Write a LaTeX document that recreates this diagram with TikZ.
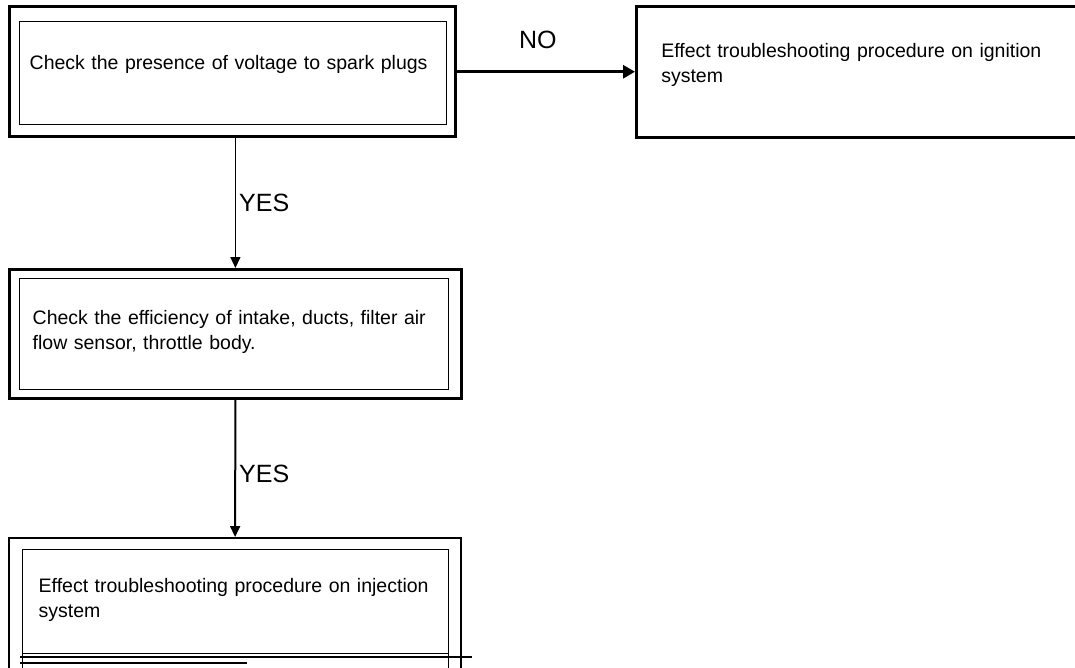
\documentclass[tikz,border=0pt]{standalone}
\usepackage{fontspec}
\setmainfont{Liberation Sans}
\usetikzlibrary{arrows.meta}

\tikzset{
  stepbox/.style={draw, line width=1.4pt, anchor=north west, align=left, inner ysep=0pt,
    font=\fontsize{19.5pt}{25pt}\selectfont},
  framebox/.style={draw, line width=2.8pt, anchor=north west, inner sep=0pt},
  flow/.style={line width=1.5pt, -{Triangle[length=11pt,width=10pt]}},
  answer/.style={font=\fontsize{25pt}{30pt}\selectfont, inner sep=0pt}
}

\begin{document}
\begin{tikzpicture}[x=1pt, y=-1pt]
  \useasboundingbox (0,0) rectangle (1075,667);
  % outer frames
  \node[framebox, minimum width=446pt, minimum height=130pt] (checkframe) at (8,5) {};
  \node[framebox, minimum width=452pt, minimum height=129pt] (effframe) at (8,268) {};
  \node[framebox, line width=2.2pt, minimum width=452pt, minimum height=152pt] (injectframe) at (8,537) {};
  % steps
  \node[stepbox, minimum width=427pt, text width=407pt, inner xsep=10pt,
        text height=48pt, text depth=55pt] (check) at (19,21)
       {Check the presence of voltage to spark plugs};
  \node[stepbox, line width=2.5pt, minimum width=450pt, text width=400pt, inner xsep=25pt,
        text height=51pt, text depth=80pt] (ignition) at (635,5)
       {Effect troubleshooting procedure on ignition\\system};
  \node[stepbox, minimum width=429pt, text width=403pt, inner xsep=13pt,
        text height=46pt, text depth=65pt] (efficiency) at (19,278)
       {Check the efficiency of intake, ducts, filter air\\flow sensor, throttle body.};
  \node[stepbox, minimum width=426pt, text width=394pt, inner xsep=16pt,
        text height=43pt, text depth=97pt] (injection) at (22,549)
       {Effect troubleshooting procedure on injection\\system};
  % bottom edge of the last step
  \draw[line width=1pt] (22,653) -- (448,653);
  \draw[line width=1.2pt] (20,657) -- (472,657);
  \draw[line width=2pt] (20,657) -- (247,657);
  \draw[line width=1.6pt] (20,663) -- (247,663);
  % connectors
  \draw[flow, line width=3pt, -{Triangle[length=12pt,width=13pt]}]
    (ignition.west -| checkframe.east) -- node[answer, above=22pt, pos=0.455] (no) {NO} (ignition.west);
  \draw[flow] (effframe.north |- checkframe.south) -- node[answer, right=3pt] (yes1) {YES} (effframe.north);
  \draw[flow, line width=2pt] (effframe.south) -- node[answer, right=3pt, pos=0.54] (yes2) {YES} (injectframe.north);
\end{tikzpicture}
\end{document}
